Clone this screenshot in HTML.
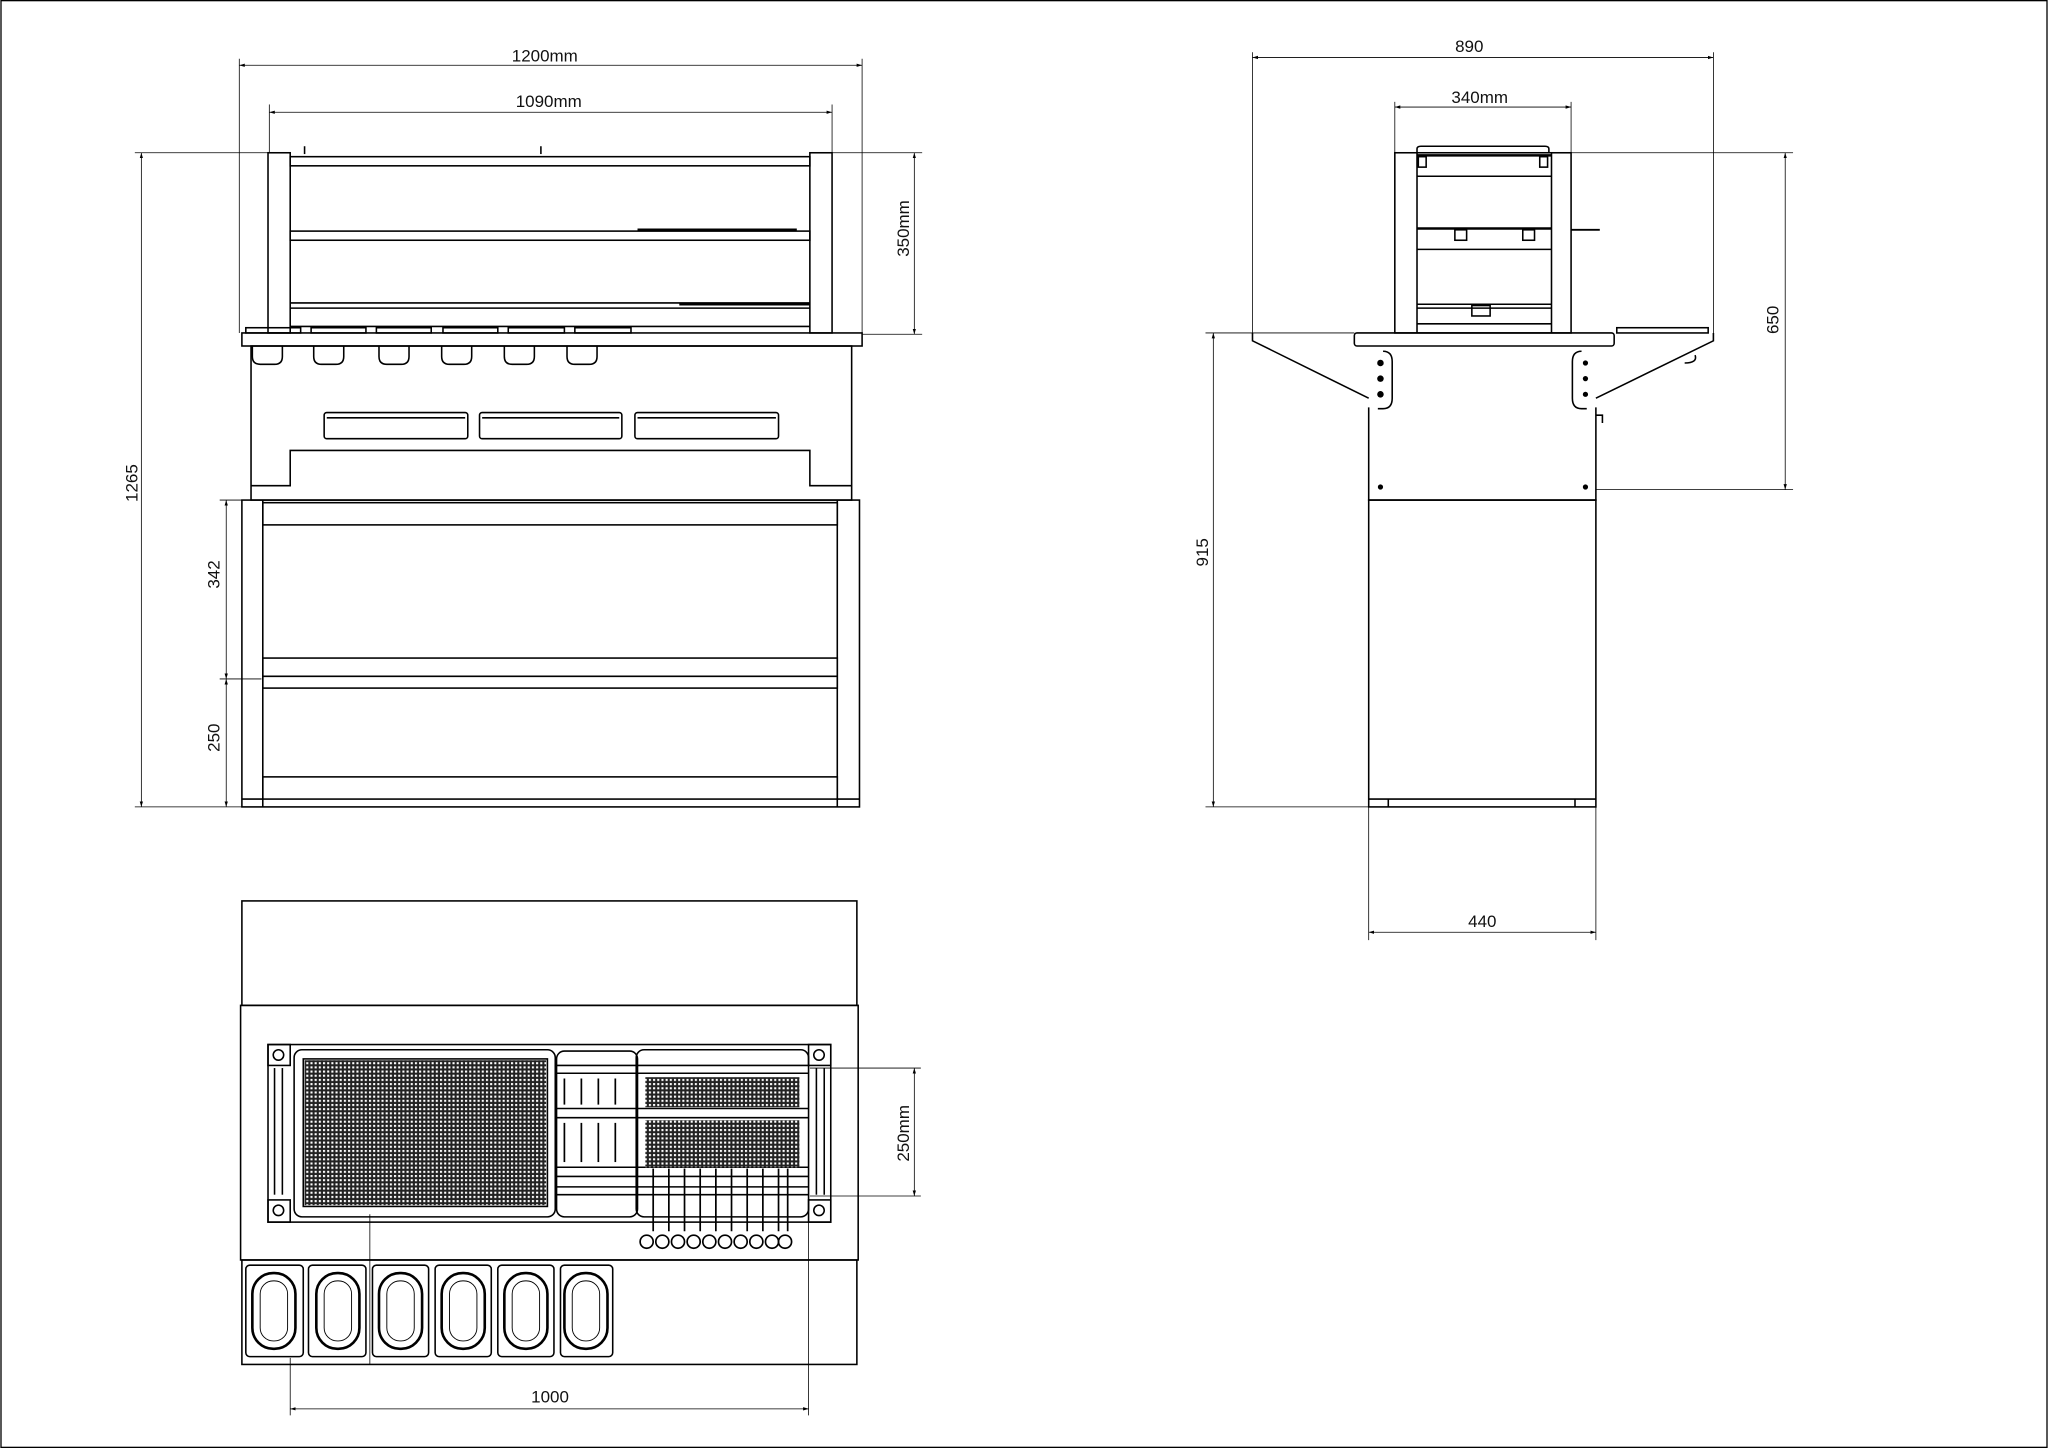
<!DOCTYPE html>
<html><head><meta charset="utf-8"><style>
html,body{margin:0;padding:0;background:#fff;}
svg{display:block;}
text{font-family:"Liberation Sans",sans-serif;font-size:13px;fill:#111;}
</style></head><body>
<svg width="2048" height="1448" viewBox="0 0 1568 1109" xmlns="http://www.w3.org/2000/svg">
<defs>
<marker id="a" viewBox="0 0 10 10" refX="10" refY="5" markerWidth="7" markerHeight="7" orient="auto-start-reverse"><path d="M0,2 L10,5 L0,8 z" fill="#000"/></marker>
<pattern id="mesh" width="3.2" height="3.2" patternUnits="userSpaceOnUse"><rect width="3.2" height="3.2" fill="#222"/><rect x="0.7" y="0.7" width="1.6" height="1.6" fill="#fff"/></pattern>
</defs>
<rect x="0.5" y="0.5" width="1567" height="1108" fill="none" stroke="#000" stroke-width="1"/>
<g fill="none" stroke="#000" stroke-width="0.6">
<line x1="183" y1="45" x2="183" y2="255"/><line x1="660" y1="45" x2="660" y2="255"/>
<line x1="183" y1="50" x2="660" y2="50" marker-start="url(#a)" marker-end="url(#a)"/>
<line x1="206" y1="80" x2="206" y2="117"/><line x1="637" y1="80" x2="637" y2="117"/>
<line x1="206" y1="86" x2="637" y2="86" marker-start="url(#a)" marker-end="url(#a)"/>
<line x1="637" y1="117" x2="706" y2="117"/><line x1="660" y1="256" x2="706" y2="256"/>
<line x1="700" y1="117" x2="700" y2="256" marker-start="url(#a)" marker-end="url(#a)"/>
<line x1="103" y1="117" x2="205" y2="117"/><line x1="103" y1="618" x2="185" y2="618"/>
<line x1="108" y1="117" x2="108" y2="618" marker-start="url(#a)" marker-end="url(#a)"/>
<line x1="168" y1="383" x2="200" y2="383"/><line x1="168" y1="520" x2="200" y2="520"/>
<line x1="173" y1="383" x2="173" y2="520" marker-start="url(#a)" marker-end="url(#a)"/>
<line x1="173" y1="520" x2="173" y2="618" marker-start="url(#a)" marker-end="url(#a)"/>
</g>
<text x="417" y="47" text-anchor="middle">1200mm</text>
<text x="420" y="82" text-anchor="middle">1090mm</text>
<text transform="translate(696,175) rotate(-90)" text-anchor="middle">350mm</text>
<text transform="translate(105,370) rotate(-90)" text-anchor="middle">1265</text>
<text transform="translate(168,440) rotate(-90)" text-anchor="middle">342</text>
<text transform="translate(168,565) rotate(-90)" text-anchor="middle">250</text>
<g fill="none" stroke="#000" stroke-width="1.2">
<rect x="205" y="117" width="17" height="138"/><rect x="620" y="117" width="17" height="138"/>
<rect x="222" y="120" width="398" height="7"/>
<rect x="222" y="177" width="398" height="7"/>
<line x1="222" y1="232" x2="620" y2="232"/><line x1="222" y1="236" x2="620" y2="236"/>
<line x1="222" y1="250" x2="620" y2="250"/>
<line x1="233" y1="112" x2="233" y2="118"/><line x1="414" y1="112" x2="414" y2="118"/>
<line x1="488" y1="176" x2="610" y2="176" stroke-width="2"/>
<line x1="520" y1="233" x2="620" y2="233" stroke-width="2"/>
<rect x="185" y="255" width="475" height="10"/>
<rect x="192" y="265" width="460" height="118"/>
<path d="M192,372 H222 V345 H620 V372 H652"/>
<rect x="248" y="316" width="110" height="20" rx="2"/><rect x="367" y="316" width="109" height="20" rx="2"/><rect x="486" y="316" width="110" height="20" rx="2"/>
<line x1="250" y1="320" x2="356" y2="320"/><line x1="369" y1="320" x2="474" y2="320"/><line x1="488" y1="320" x2="594" y2="320"/>
<path d="M193,265 v8 q0,6 6,6 h11 q6,0 6,-6 v-8"/><path d="M240,265 v8 q0,6 6,6 h11 q6,0 6,-6 v-8"/>
<path d="M290,265 v8 q0,6 6,6 h11 q6,0 6,-6 v-8"/><path d="M338,265 v8 q0,6 6,6 h11 q6,0 6,-6 v-8"/>
<path d="M386,265 v8 q0,6 6,6 h11 q6,0 6,-6 v-8"/><path d="M434,265 v8 q0,6 6,6 h11 q6,0 6,-6 v-8"/>
<rect x="188" y="251" width="42" height="4"/><rect x="238" y="251" width="42" height="4"/><rect x="288" y="251" width="42" height="4"/><rect x="339" y="251" width="42" height="4"/><rect x="389" y="251" width="43" height="4"/><rect x="440" y="251" width="43" height="4"/>
<rect x="185" y="383" width="473" height="235"/>
<line x1="201" y1="383" x2="201" y2="618"/><line x1="641" y1="383" x2="641" y2="618"/>
<rect x="201" y="385" width="440" height="17"/>
<rect x="201" y="504" width="440" height="23"/><line x1="201" y1="518" x2="641" y2="518"/>
<rect x="201" y="595" width="440" height="17"/>
<line x1="185" y1="612" x2="201" y2="612"/><line x1="641" y1="612" x2="658" y2="612"/>
</g>
<g fill="none" stroke="#000" stroke-width="0.6">
<line x1="959" y1="40" x2="959" y2="255"/><line x1="1312" y1="40" x2="1312" y2="255"/>
<line x1="959" y1="44" x2="1312" y2="44" marker-start="url(#a)" marker-end="url(#a)"/>
<line x1="1068" y1="78" x2="1068" y2="117"/><line x1="1203" y1="78" x2="1203" y2="117"/>
<line x1="1068" y1="82" x2="1203" y2="82" marker-start="url(#a)" marker-end="url(#a)"/>
<line x1="1188" y1="117" x2="1373" y2="117"/><line x1="1222" y1="375" x2="1373" y2="375"/>
<line x1="1367" y1="117" x2="1367" y2="375" marker-start="url(#a)" marker-end="url(#a)"/>
<line x1="923" y1="255" x2="1037" y2="255"/><line x1="923" y1="618" x2="1048" y2="618"/>
<line x1="929" y1="255" x2="929" y2="618" marker-start="url(#a)" marker-end="url(#a)"/>
<line x1="1048" y1="618" x2="1048" y2="720"/><line x1="1222" y1="618" x2="1222" y2="720"/>
<line x1="1048" y1="714" x2="1222" y2="714" marker-start="url(#a)" marker-end="url(#a)"/>
</g>
<text x="1125" y="40" text-anchor="middle">890</text>
<text x="1133" y="79" text-anchor="middle">340mm</text>
<text transform="translate(1362,245) rotate(-90)" text-anchor="middle">650</text>
<text transform="translate(925,423) rotate(-90)" text-anchor="middle">915</text>
<text x="1135" y="710" text-anchor="middle">440</text>
<g fill="none" stroke="#000" stroke-width="1.2">
<rect x="1068" y="117" width="135" height="138"/>
<line x1="1085" y1="117" x2="1085" y2="255"/><line x1="1188" y1="117" x2="1188" y2="255"/>
<path d="M1085,117 v-3 q0,-2 3,-2 h95 q3,0 3,2 v3"/>
<line x1="1085" y1="119" x2="1188" y2="119" stroke-width="2"/>
<rect x="1086" y="120" width="6" height="8"/><rect x="1179" y="120" width="6" height="8"/>
<line x1="1085" y1="135" x2="1188" y2="135"/>
<line x1="1085" y1="175" x2="1188" y2="175" stroke-width="2"/>
<rect x="1114" y="176" width="9" height="8"/><rect x="1166" y="176" width="9" height="8"/>
<line x1="1085" y1="191" x2="1188" y2="191"/>
<line x1="1085" y1="233" x2="1188" y2="233"/><line x1="1085" y1="236" x2="1188" y2="236"/>
<rect x="1127" y="234" width="14" height="8"/>
<line x1="1085" y1="248" x2="1188" y2="248"/>
<line x1="1203" y1="176" x2="1225" y2="176" stroke-width="1.5"/>
<rect x="1037" y="255" width="199" height="10" rx="2"/>
<rect x="1238" y="251" width="70" height="4"/>
<path d="M959,255 V261 L1048,305"/><path d="M1312,255 V261 L1222,305"/>
<path d="M1048,312 L1048,383 H1222 V312"/>
<path d="M1059,269 q7,0 7,8 v28 q0,8 -7,8 h-4 M1211,269 q-7,0 -7,8 v28 q0,8 7,8 h4"/>
<path d="M1222,318 h5 v6"/>
<path d="M1298,272 q2,6 -8,6"/>
<rect x="1048" y="383" width="174" height="235"/>
<line x1="1048" y1="612" x2="1222" y2="612"/>
<line x1="1063" y1="612" x2="1063" y2="618"/><line x1="1206" y1="612" x2="1206" y2="618"/>
</g>
<g fill="#000">
<circle cx="1057" cy="278" r="2.5"/><circle cx="1057" cy="290" r="2.5"/><circle cx="1057" cy="302" r="2.5"/>
<circle cx="1214" cy="278" r="2"/><circle cx="1214" cy="290" r="2"/><circle cx="1214" cy="302" r="2"/>
<circle cx="1057" cy="373" r="2"/><circle cx="1214" cy="373" r="2"/>
</g>
<g fill="none" stroke="#000" stroke-width="0.6">
<line x1="222" y1="1040" x2="222" y2="1084"/><line x1="619" y1="915" x2="619" y2="1084"/>
<line x1="222" y1="1079" x2="619" y2="1079" marker-start="url(#a)" marker-end="url(#a)"/>
<line x1="620" y1="818" x2="705" y2="818"/><line x1="620" y1="916" x2="705" y2="916"/>
<line x1="700" y1="818" x2="700" y2="916" marker-start="url(#a)" marker-end="url(#a)"/>
<line x1="283" y1="930" x2="283" y2="1045"/>
</g>
<text x="421" y="1074" text-anchor="middle">1000</text>
<text transform="translate(696,868) rotate(-90)" text-anchor="middle">250mm</text>
<g fill="none" stroke="#000" stroke-width="1.2">
<rect x="185" y="690" width="471" height="80"/>
<rect x="184" y="770" width="473" height="195"/>
<rect x="185" y="965" width="471" height="80"/>
<rect x="205" y="800" width="431" height="136"/>
<rect x="205" y="800" width="17" height="16"/><circle cx="213" cy="808" r="4"/>
<rect x="619" y="800" width="17" height="16"/><circle cx="627" cy="808" r="4"/>
<rect x="205" y="919" width="17" height="17"/><circle cx="213" cy="927" r="4"/>
<rect x="619" y="919" width="17" height="17"/><circle cx="627" cy="927" r="4"/>
<rect x="225" y="804" width="200" height="128" rx="6"/>
<rect x="232" y="811" width="187" height="113"/>
<rect x="426" y="805" width="62" height="127" rx="6"/>
<rect x="487" y="804" width="132" height="128" rx="6"/>
<line x1="210" y1="818" x2="210" y2="915"/><line x1="216" y1="818" x2="216" y2="915"/>
<line x1="625" y1="818" x2="625" y2="915"/><line x1="631" y1="818" x2="631" y2="915"/>
<line x1="425" y1="816" x2="619" y2="816"/><line x1="425" y1="822" x2="619" y2="822"/>
<line x1="425" y1="849" x2="619" y2="849"/><line x1="425" y1="856" x2="619" y2="856"/>
<line x1="425" y1="894" x2="619" y2="894"/><line x1="425" y1="901" x2="619" y2="901"/>
<line x1="425" y1="909" x2="619" y2="909"/><line x1="425" y1="915" x2="619" y2="915"/>
</g>
<rect x="233" y="812" width="185" height="111" fill="url(#mesh)"/>
<rect x="494" y="825" width="118" height="23" fill="url(#mesh)"/>
<rect x="494" y="858" width="118" height="36" fill="url(#mesh)"/>
<g stroke="#000" stroke-width="1.3">
<line x1="432" y1="826" x2="432" y2="846"/><line x1="445" y1="826" x2="445" y2="846"/><line x1="458" y1="826" x2="458" y2="846"/><line x1="471" y1="826" x2="471" y2="846"/>
<line x1="432" y1="860" x2="432" y2="890"/><line x1="445" y1="860" x2="445" y2="890"/><line x1="458" y1="860" x2="458" y2="890"/><line x1="471" y1="860" x2="471" y2="890"/>
</g>
<g fill="none" stroke="#000" stroke-width="1.3">
<path d="M500,895 v48"/><path d="M512,895 v48"/><path d="M524,895 v48"/><path d="M536,895 v48"/><path d="M548,895 v48"/><path d="M560,895 v48"/><path d="M572,895 v48"/><path d="M584,895 v48"/><path d="M596,895 v48"/><path d="M603,895 v48"/>
<circle cx="495" cy="951" r="5"/><circle cx="507" cy="951" r="5"/><circle cx="519" cy="951" r="5"/><circle cx="531" cy="951" r="5"/><circle cx="543" cy="951" r="5"/><circle cx="555" cy="951" r="5"/><circle cx="567" cy="951" r="5"/><circle cx="579" cy="951" r="5"/><circle cx="591" cy="951" r="5"/><circle cx="601" cy="951" r="5"/>
</g>
<g fill="none" stroke="#000" stroke-width="1.2">
<rect x="188" y="969" width="44" height="70" rx="3"/><rect x="236" y="969" width="44" height="70" rx="3"/><rect x="285" y="969" width="43" height="70" rx="3"/><rect x="333" y="969" width="43" height="70" rx="3"/><rect x="381" y="969" width="43" height="70" rx="3"/><rect x="429" y="969" width="40" height="70" rx="3"/>
</g>
<g fill="none" stroke="#000" stroke-width="2">
<rect x="193" y="975" width="33" height="58" rx="16"/><rect x="242" y="975" width="33" height="58" rx="16"/><rect x="290" y="975" width="33" height="58" rx="16"/><rect x="338" y="975" width="33" height="58" rx="16"/><rect x="386" y="975" width="33" height="58" rx="16"/><rect x="432" y="975" width="33" height="58" rx="16"/>
</g>
<g fill="none" stroke="#000" stroke-width="0.7">
<rect x="199" y="981" width="21" height="46" rx="10"/><rect x="248" y="981" width="21" height="46" rx="10"/><rect x="296" y="981" width="21" height="46" rx="10"/><rect x="344" y="981" width="21" height="46" rx="10"/><rect x="392" y="981" width="21" height="46" rx="10"/><rect x="438" y="981" width="21" height="46" rx="10"/>
</g>
</svg>
</body></html>
